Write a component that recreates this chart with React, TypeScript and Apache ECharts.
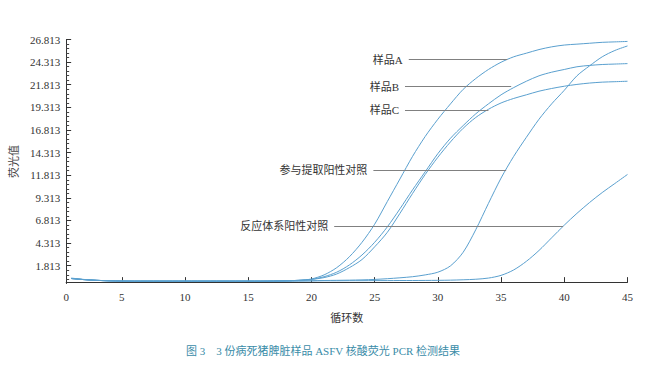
import React, { useEffect, useRef } from "react";
import * as echarts from "echarts";

// x: PCR cycle numbers
const cycles = [
  1, 2, 3, 4, 5, 6, 7, 8, 9, 10, 11, 12, 13, 14, 15, 16, 17, 18, 19, 20, 21, 22, 23,
  24, 25, 26, 27, 28, 29, 30, 31, 32, 33, 34, 35, 36, 37, 38, 39, 40, 41, 42, 43, 44, 45,
];

// fluorescence values per cycle
const sampleA = [
  0.45, 0.3, 0.2, 0.15, 0.12, 0.1, 0.1, 0.1, 0.1, 0.1, 0.1, 0.1, 0.1, 0.1, 0.1, 0.1, 0.12, 0.15,
  0.2, 0.35, 0.8, 1.6, 2.8, 4.4, 6.4, 8.9, 11.4, 13.9, 16.1, 18.0, 19.7, 21.3, 22.5, 23.5, 24.3,
  24.9, 25.3, 25.7, 26.0, 26.2, 26.3, 26.4, 26.5, 26.55, 26.6,
];
const sampleB = [
  0.4, 0.28, 0.2, 0.15, 0.12, 0.1, 0.1, 0.1, 0.1, 0.1, 0.1, 0.1, 0.1, 0.1, 0.1, 0.1, 0.12, 0.15,
  0.2, 0.3, 0.6, 1.1, 1.9, 3.0, 4.4, 6.1, 8.1, 10.2, 12.2, 14.2, 15.9, 17.3, 18.6, 19.7, 20.7,
  21.5, 22.2, 22.8, 23.2, 23.5, 23.8, 23.95, 24.05, 24.1, 24.15,
];
const sampleC = [
  0.4, 0.28, 0.2, 0.15, 0.12, 0.1, 0.1, 0.1, 0.1, 0.1, 0.1, 0.1, 0.1, 0.1, 0.1, 0.1, 0.12, 0.15,
  0.2, 0.3, 0.5, 0.9, 1.6, 2.5, 3.9, 5.5, 7.6, 9.8, 11.9, 13.8, 15.5, 17.0, 18.2, 19.1, 19.8,
  20.3, 20.7, 21.1, 21.4, 21.65, 21.85, 22.0, 22.1, 22.15, 22.2,
];
const extractionControl = [
  0.4, 0.28, 0.2, 0.15, 0.12, 0.12, 0.12, 0.12, 0.12, 0.12, 0.12, 0.12, 0.12, 0.12, 0.12, 0.12,
  0.12, 0.12, 0.13, 0.15, 0.18, 0.2, 0.22, 0.25, 0.3, 0.38, 0.48, 0.6, 0.8, 1.1, 1.8, 3.3, 5.8,
  8.7, 11.5, 13.9, 16.0, 18.0, 19.7, 21.2, 22.8, 23.9, 24.9, 25.6, 26.1,
];
const reactionControl = [
  0.4, 0.28, 0.2, 0.15, 0.12, 0.12, 0.12, 0.12, 0.12, 0.12, 0.12, 0.12, 0.12, 0.12, 0.12, 0.12,
  0.12, 0.12, 0.13, 0.14, 0.15, 0.15, 0.16, 0.16, 0.17, 0.17, 0.18, 0.18, 0.19, 0.2, 0.22, 0.26,
  0.32, 0.45, 0.75, 1.35, 2.3, 3.5, 4.9, 6.3, 7.6, 8.8, 9.9, 10.9, 11.9,
];

const seriesNames = ["样品A", "样品B", "样品C", "参与提取阳性对照", "反应体系阳性对照"];
const seriesValues = [sampleA, sampleB, sampleC, extractionControl, reactionControl];

// annotation leader lines (data coordinates)
const annotLabels = ["样品A", "样品B", "样品C", "参与提取阳性对照", "反应体系阳性对照"];
const annotY = [24.6, 21.6, 19.0, 12.4, 6.2];
const annotFrom = [27.7, 27.4, 27.4, 24.9, 21.8];
const annotTo = [35.5, 35.8, 34.0, 35.4, 39.9];

// axis ticks
const yTicks = [1.813, 4.313, 6.813, 9.313, 11.813, 14.313, 16.813, 19.313, 21.813, 24.313, 26.813];
const xTickValues = [0.6, 5, 10, 15, 20, 25, 30, 35, 40, 45];
const xTickLabels = ["0", "5", "10", "15", "20", "25", "30", "35", "40", "45"];

const caption = "图 3　3 份病死猪脾脏样品 ASFV 核酸荧光 PCR 检测结果";

const FONT = "'Liberation Serif', 'Noto Sans CJK SC', serif";

export default function App() {
  const ref = useRef<HTMLDivElement>(null);
  useEffect(() => {
    if (!ref.current) return;
    const chart = echarts.init(ref.current, undefined, { renderer: "svg" });

    const minorTicks: number[] = [];
    for (let k = 0; k <= 52; k++) {
      const v = +(0.313 + 0.5 * k).toFixed(3);
      if (v > 26.813) break;
      if (!yTicks.some((t) => Math.abs(t - v) < 1e-6)) minorTicks.push(v);
    }

    const lineColor = "#5aa0cf";
    const series: any[] = seriesValues.map((vals, i) => ({
      name: seriesNames[i],
      type: "line",
      data: cycles.map((c, j) => [c, vals[j]]),
      showSymbol: false,
      smooth: 0.3,
      lineStyle: { color: lineColor, width: 1 },
      itemStyle: { color: lineColor },
      z: 3,
    }));

    series.push({
      type: "line",
      data: [],
      silent: true,
      markLine: {
        silent: true,
        symbol: ["none", "none"],
        animation: false,
        lineStyle: { color: "#808080", width: 1.2, type: "solid" },
        label: {
          show: true,
          position: "start",
          distance: 6,
          formatter: (p: any) => p.name,
          color: "#333",
          fontSize: 11,
          fontFamily: FONT,
        },
        data: annotLabels.map((name, i) => [
          { name, coord: [annotFrom[i], annotY[i]] },
          { coord: [annotTo[i], annotY[i]] },
        ]),
      },
      z: 2,
    });

    chart.setOption({
      animation: false,
      backgroundColor: "#ffffff",
      title: {
        text: caption,
        left: "center",
        top: 345,
        padding: 0,
        textStyle: { color: "#3a8ca8", fontSize: 11, fontWeight: "normal", fontFamily: FONT },
      },
      grid: { left: 62, right: 18.5, top: 39.5, bottom: 86.5 },
      xAxis: {
        type: "value",
        min: 0.6,
        max: 45,
        name: "循环数",
        nameLocation: "middle",
        nameGap: 29,
        nameTextStyle: { color: "#333", fontSize: 11, fontFamily: FONT },
        axisLine: { show: true, lineStyle: { color: "#333", width: 1 } },
        axisTick: {
          show: true,
          inside: true,
          length: 5,
          customValues: xTickValues.slice(1),
          lineStyle: { color: "#333" },
        },
        axisLabel: {
          customValues: xTickValues,
          formatter: (v: number) => xTickLabels[xTickValues.findIndex((t) => Math.abs(t - v) < 1e-6)] ?? "",
          color: "#333",
          fontSize: 11,
          fontFamily: FONT,
          margin: 8,
        },
        splitLine: { show: false },
      },
      yAxis: [
        {
          type: "value",
          min: -0.15,
          max: 26.813,
          name: "荧光值",
          nameLocation: "middle",
          nameRotate: 90,
          nameGap: 43,
          nameTextStyle: { color: "#444", fontSize: 11, fontFamily: FONT },
          axisLine: { show: true, lineStyle: { color: "#333", width: 1 } },
          axisTick: {
            show: true,
            inside: true,
            length: 5,
            customValues: yTicks,
            lineStyle: { color: "#333" },
          },
          axisLabel: {
            customValues: yTicks,
            formatter: (v: number) => v.toFixed(3),
            color: "#333",
            fontSize: 11,
            fontFamily: FONT,
            margin: 6,
          },
          splitLine: { show: false },
        },
        {
          type: "value",
          position: "left",
          min: -0.15,
          max: 26.813,
          axisLine: { show: false },
          axisTick: {
            show: true,
            inside: true,
            length: 3,
            customValues: minorTicks,
            lineStyle: { color: "#444" },
          },
          axisLabel: { show: false },
          splitLine: { show: false },
        },
      ],
      series,
    });
    return () => chart.dispose();
  }, []);
  return (
    <div
      ref={ref}
      style={{ position: "fixed", left: 0, top: 0, width: 646, height: 370, background: "#fff" }}
    />
  );
}
